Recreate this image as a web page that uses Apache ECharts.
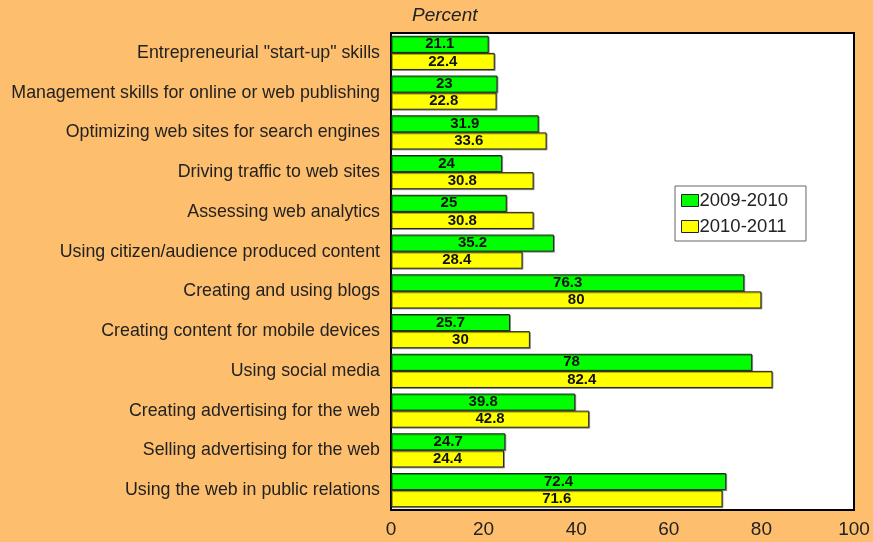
<!DOCTYPE html>
<html>
<head>
<meta charset="utf-8">
<script src="https://cdn.jsdelivr.net/npm/echarts@6/dist/echarts.min.js"></script>
<style>
  html, body { margin: 0; padding: 0; background: #FDBE6E; }
  #chart { width: 873px; height: 542px; }
</style>
</head>
<body>
<div id="chart"></div>
<script>
// Skills categories, listed top to bottom
const categories = [
  'Entrepreneurial "start-up" skills',
  'Management skills for online or web publishing',
  'Optimizing web sites for search engines',
  'Driving traffic to web sites',
  'Assessing web analytics',
  'Using citizen/audience produced content',
  'Creating and using blogs',
  'Creating content for mobile devices',
  'Using social media',
  'Creating advertising for the web',
  'Selling advertising for the web',
  'Using the web in public relations'
];
const series2009 = [21.1, 23, 31.9, 24, 25, 35.2, 76.3, 25.7, 78, 39.8, 24.7, 72.4];
const series2010 = [22.4, 22.8, 33.6, 30.8, 30.8, 28.4, 80, 30, 82.4, 42.8, 24.4, 71.6];
const xTicks = [0, 20, 40, 60, 80, 100];

const FONT = 'Liberation Sans, Arial, sans-serif';
const chart = echarts.init(document.getElementById('chart'));

const barLabel = {
  show: true,
  position: 'inside',
  color: '#111',
  fontFamily: FONT,
  fontWeight: 'bold',
  fontSize: 15
};

const barStyle = color => ({
  color: color,
  borderColor: '#222',
  borderWidth: 1,
  shadowColor: 'rgba(0,0,0,0.35)',
  shadowOffsetX: 1,
  shadowOffsetY: 1
});

chart.setOption({
  backgroundColor: '#FDBE6E',
  animation: false,
  title: {
    text: 'Percent',
    left: 407,
    top: 1,
    textStyle: {
      fontFamily: FONT,
      fontStyle: 'italic',
      fontWeight: 'normal',
      fontSize: 19,
      color: '#222'
    }
  },
  legend: {
    orient: 'vertical',
    left: 675,
    top: 186,
    padding: [5, 18, 5, 6],
    itemGap: 7,
    itemWidth: 17,
    itemHeight: 12,
    icon: 'rect',
    backgroundColor: '#fff',
    borderColor: '#666',
    borderWidth: 1,
    borderRadius: 0,
    textStyle: {
      fontFamily: FONT,
      fontSize: 18.5,
      color: '#222',
      padding: [0, 0, 0, -4]
    },
    data: [
      { name: '2009-2010', itemStyle: { borderColor: '#222', borderWidth: 1, shadowBlur: 0, shadowOffsetX: 0, shadowOffsetY: 0 } },
      { name: '2010-2011', itemStyle: { borderColor: '#222', borderWidth: 1, shadowBlur: 0, shadowOffsetX: 0, shadowOffsetY: 0 } }
    ]
  },
  grid: {
    left: 391,
    right: 19,
    top: 33,
    bottom: 32,
    show: true,
    backgroundColor: '#fff',
    borderColor: '#000',
    borderWidth: 2
  },
  xAxis: {
    type: 'value',
    min: 0,
    max: 100,
    interval: 20,
    splitLine: { show: false },
    axisLine: { show: false },
    axisTick: { show: false },
    axisLabel: {
      margin: 10,
      fontFamily: FONT,
      fontSize: 19,
      color: '#222',
      formatter: v => (xTicks.includes(v) ? String(v) : '')
    }
  },
  yAxis: {
    type: 'category',
    inverse: true,
    data: categories,
    axisLine: { show: false },
    axisTick: { show: false },
    axisLabel: {
      margin: 11,
      fontFamily: FONT,
      fontSize: 17.8,
      color: '#222'
    }
  },
  series: [
    {
      name: '2009-2010',
      type: 'bar',
      data: series2009,
      barGap: '0%',
      barCategoryGap: '14%',
      itemStyle: barStyle('#00FF00'),
      label: barLabel
    },
    {
      name: '2010-2011',
      type: 'bar',
      data: series2010,
      itemStyle: barStyle('#FFFF00'),
      label: barLabel
    }
  ]
});
</script>
</body>
</html>
